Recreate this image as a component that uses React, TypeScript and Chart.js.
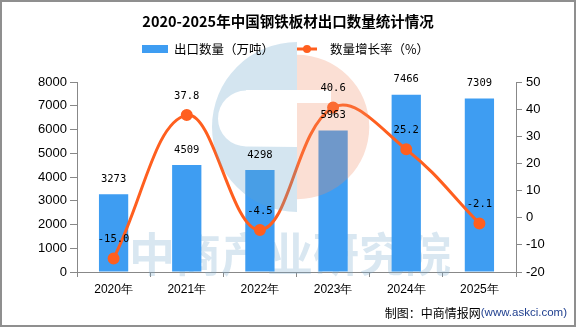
import React, { useEffect, useRef } from 'react';
import { Chart, registerables } from 'chart.js';

Chart.register(...registerables);

const categories = ['2020年', '2021年', '2022年', '2023年', '2024年', '2025年'];
const exportVolume = [3273, 4509, 4298, 5963, 7466, 7309];
const growthRate = [-15.0, 37.8, -4.5, 40.6, 25.2, -2.1];

const leftAxis = { min: 0, max: 8000, step: 1000 };
const rightAxis = { min: -20, max: 50, step: 10 };

const titleText = '2020-2025年中国钢铁板材出口数量统计情况';
const legendBar = '出口数量（万吨）';
const legendLine = '数量增长率（%）';
const footerMain = '制图：中商情报网';
const footerUrl = '(www.askci.com)';
const watermark = '中商产业研究院';

const BAR_COLOR = '#3E9DF2';
const LINE_COLOR = '#FF5F1F';
const CJK = '"Noto Sans CJK SC", "Noto Sans", sans-serif';
const SANS = '"Liberation Sans", Arial, sans-serif';
const MONO = '"DejaVu Sans Mono", monospace';

const decorPlugin = {
  id: 'decor',
  beforeDatasetsDraw(chart: any) {
    const ctx = chart.ctx;
    ctx.save();
    ctx.fillStyle = 'rgba(120,170,205,0.28)';
    ctx.font = `bold 46px ${CJK}`;
    ctx.textAlign = 'center';
    ctx.textBaseline = 'middle';
    ctx.fillText(watermark, 290, 254);
    ctx.restore();
  },
  afterDatasetsDraw(chart: any) {
    const ctx = chart.ctx;
    const cx = 297, cy = 127, r = 85;
    ctx.save();
    ctx.beginPath();
    ctx.moveTo(cx, cy - r);
    ctx.arc(cx, cy, r, -Math.PI / 2, Math.PI / 2, true);
    ctx.closePath();
    const sx = 218, sy = 90, sh = 57, rr = 28;
    ctx.moveTo(cx, sy);
    ctx.lineTo(sx + rr, sy);
    ctx.arc(sx + rr, sy + rr + 0.5, rr, -Math.PI / 2, Math.PI / 2, true);
    ctx.lineTo(cx, sy + sh);
    ctx.closePath();
    ctx.fillStyle = 'rgba(100,160,200,0.28)';
    ctx.fill('evenodd');
    ctx.beginPath();
    ctx.moveTo(cx, cy - r);
    ctx.arc(cx, cy, r * 0.85, -Math.PI / 2, Math.PI / 2, false);
    ctx.closePath();
    ctx.rect(cx, 90, 34, 13);
    ctx.fillStyle = 'rgba(240,140,100,0.28)';
    ctx.fill('evenodd');
    ctx.restore();
  },
  afterDraw(chart: any) {
    const ctx = chart.ctx;
    const W = chart.width, H = chart.height;
    ctx.save();
    ctx.fillStyle = '#000';
    ctx.font = `bold 14.5px ${CJK}`;
    ctx.textAlign = 'center';
    ctx.textBaseline = 'middle';
    ctx.fillText(titleText, 288, 21);
    ctx.font = `12.5px ${CJK}`;
    ctx.textAlign = 'left';
    ctx.fillStyle = BAR_COLOR;
    ctx.fillRect(142, 45, 26, 8);
    ctx.fillStyle = '#000';
    ctx.fillText(legendBar, 174, 49);
    ctx.strokeStyle = LINE_COLOR;
    ctx.lineWidth = 3;
    ctx.beginPath();
    ctx.moveTo(297, 49);
    ctx.lineTo(317, 49);
    ctx.stroke();
    ctx.fillStyle = LINE_COLOR;
    ctx.beginPath();
    ctx.arc(307, 49, 4, 0, Math.PI * 2);
    ctx.fill();
    ctx.fillStyle = '#000';
    ctx.fillText(legendLine, 330, 49);
    ctx.textAlign = 'right';
    ctx.font = `11.5px ${SANS}`;
    ctx.fillStyle = '#1F3F8F';
    const urlW = ctx.measureText(footerUrl).width;
    ctx.fillText(footerUrl, 567, 313);
    ctx.font = `12px ${CJK}`;
    ctx.fillStyle = '#000';
    ctx.fillText(footerMain, 567 - urlW, 313);
    ctx.strokeStyle = '#8f8f8f';
    ctx.lineWidth = 2;
    ctx.strokeRect(1, 1, W - 2, H - 2);
    ctx.restore();
  },
};

const labelPlugin = {
  id: 'valueLabels',
  afterDatasetsDraw(chart: any) {
    const ctx = chart.ctx;
    ctx.save();
    ctx.font = `10.5px ${MONO}`;
    ctx.fillStyle = '#000';
    ctx.textAlign = 'center';
    ctx.textBaseline = 'middle';
    const barMeta = chart.getDatasetMeta(0);
    barMeta.data.forEach((el: any, i: number) => {
      ctx.fillText(String(exportVolume[i]), el.x, el.y - 15);
    });
    const lineMeta = chart.getDatasetMeta(1);
    lineMeta.data.forEach((el: any, i: number) => {
      ctx.fillText(growthRate[i].toFixed(1), el.x, el.y - 19);
    });
    ctx.restore();
  },
};

export default function App() {
  const ref = useRef<HTMLCanvasElement | null>(null);
  useEffect(() => {
    document.body.style.margin = '0';
    const canvas = ref.current!;
    const chart = new Chart(canvas, {
      type: 'bar',
      data: {
        labels: categories,
        datasets: [
          {
            type: 'bar',
            label: legendBar,
            data: exportVolume,
            backgroundColor: BAR_COLOR,
            yAxisID: 'y',
            barPercentage: 0.4,
            categoryPercentage: 1.0,
            order: 2,
          },
          {
            type: 'line',
            label: legendLine,
            data: growthRate,
            borderColor: LINE_COLOR,
            backgroundColor: LINE_COLOR,
            borderWidth: 3,
            pointRadius: 4.5,
            pointHoverRadius: 4.5,
            tension: 0.4,
            yAxisID: 'y1',
            order: 1,
          },
        ] as any,
      },
      options: {
        animation: false,
        responsive: false,
        maintainAspectRatio: false,
        layout: { padding: { top: 82, left: 0, right: 0, bottom: 0 } },
        plugins: { legend: { display: false }, title: { display: false }, tooltip: { enabled: false } },
        scales: {
          x: {
            offset: true,
            grid: { display: true, drawOnChartArea: false, drawTicks: true, tickLength: 5, color: '#888', offset: true },
            border: { color: '#888', width: 1 },
            ticks: { color: '#000', font: { family: SANS, size: 12 }, padding: 5 },
            afterFit: (s: any) => { s.height = 55; },
          },
          y: {
            position: 'left',
            min: leftAxis.min,
            max: leftAxis.max,
            ticks: {
              stepSize: leftAxis.step,
              color: '#000',
              font: { family: SANS, size: 13 },
              padding: 3,
              callback: (v: any) => String(v),
            },
            grid: { drawOnChartArea: false, drawTicks: true, tickLength: 7, color: '#888' },
            border: { color: '#888', width: 1 },
            afterFit: (s: any) => { s.width = 77; },
          },
          y1: {
            position: 'right',
            min: rightAxis.min,
            max: rightAxis.max,
            ticks: {
              stepSize: rightAxis.step,
              color: '#000',
              font: { family: SANS, size: 13 },
              padding: 4,
              callback: (v: any) => String(v),
            },
            grid: { drawOnChartArea: false, drawTicks: true, tickLength: 6, color: '#888' },
            border: { color: '#888', width: 1 },
            afterFit: (s: any) => { s.width = 60; },
          },
        },
      } as any,
      plugins: [decorPlugin, labelPlugin],
    });
    return () => chart.destroy();
  }, []);
  return <canvas ref={ref} width={576} height={327} style={{ display: 'block' }} />;
}
